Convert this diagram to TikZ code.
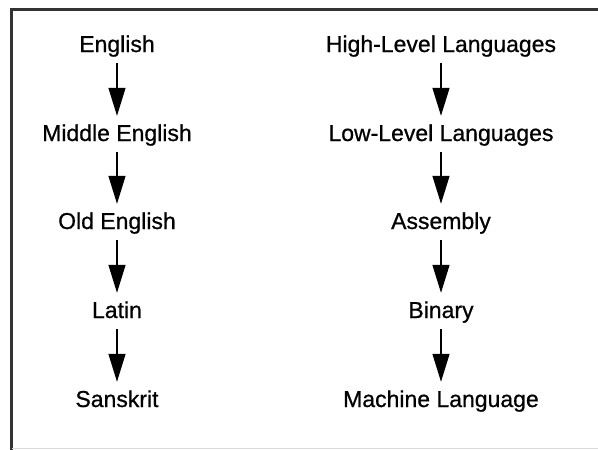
\documentclass[tikz,border=0pt]{standalone}
\usepackage{fontspec}
\setmainfont{Liberation Sans}
\newfontfamily\lblfont[BoldFont={Liberation Sans}, BoldFeatures={FakeBold=0.7}]{Liberation Sans}
\usetikzlibrary{arrows.meta}
\begin{document}
\begin{tikzpicture}[x=1pt,y=-1pt,
  lbl/.style={font=\lblfont\bfseries\fontsize{23}{26}\selectfont, inner sep=0pt, anchor=base, text height=16pt, text depth=5pt},
  flow/.style={line width=1.3pt, -{Triangle[length=28pt,width=17pt]}, shorten <=6pt, shorten >=9pt}]
\useasboundingbox (0,0) rectangle (598,450);
\fill[white] (0,0) rectangle (598,450);
% frame
\draw[line width=3pt, black!80] (598,9.5) -- (11.5,9.5) -- (11.5,450);
\draw[line width=1pt, black!15] (11.5,448.5) -- (598,448.5);
% left column
\node[lbl] (e1) at (117,52) {English};
\node[lbl] (e2) at (117,141) {Middle English};
\node[lbl] (e3) at (117,229) {Old English};
\node[lbl] (e4) at (117,318) {Latin};
\node[lbl] (e5) at (117,407) {Sanskrit};
% right column
\node[lbl] (c1) at (441,52) {High-Level Languages};
\node[lbl] (c2) at (441,141) {Low-Level Languages};
\node[lbl] (c3) at (441,229) {Assembly};
\node[lbl] (c4) at (441,318) {Binary};
\node[lbl] (c5) at (441,407) {Machine Language};
\foreach \a/\b in {e1/e2,e2/e3,e3/e4,e4/e5,c1/c2,c2/c3,c3/c4,c4/c5}
  \draw[flow] (\a) -- (\b);
\end{tikzpicture}
\end{document}
